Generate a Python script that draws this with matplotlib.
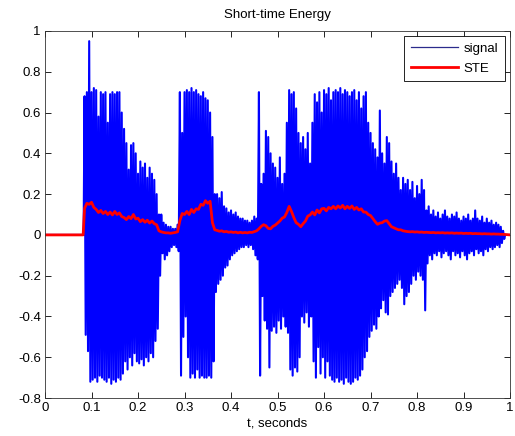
import numpy as np
import matplotlib
matplotlib.use('Agg')
import matplotlib.pyplot as plt

plt.rcParams['font.family'] = ['Liberation Sans', 'DejaVu Sans']
plt.rcParams['font.size'] = 9.5

# sample grid of the read-off peaks: t = 0.085 + 0.005*i
t0 = 0.085
dt = 0.005

# positive peaks of the signal
sig_upper = [
    0.68, 0.70, 0.95, 0.70, 0.72, 0.71, 0.58, 0.70, 0.69, 0.70,
    0.55, 0.69, 0.70, 0.69, 0.70, 0.70, 0.60, 0.52, 0.45, 0.32,
    0.44, 0.45, 0.40, 0.30, 0.36, 0.33, 0.35, 0.28, 0.33, 0.30,
    0.27, 0.20, 0.10, 0.10, 0.06, 0.05, 0.04, 0.04, 0.03, 0.03,
    0.05, 0.70, 0.50, 0.70, 0.71, 0.70, 0.72, 0.70, 0.71, 0.69,
    0.68, 0.70, 0.67, 0.66, 0.60, 0.48, 0.20, 0.20, 0.18, 0.21,
    0.14, 0.13, 0.11, 0.12, 0.10, 0.11, 0.09, 0.08, 0.08, 0.07,
    0.07, 0.06, 0.07, 0.09, 0.08, 0.70, 0.25, 0.30, 0.51, 0.48,
    0.40, 0.35, 0.33, 0.28, 0.38, 0.25, 0.30, 0.55, 0.71, 0.69,
    0.70, 0.62, 0.50, 0.45, 0.48, 0.42, 0.50, 0.35, 0.55, 0.69,
    0.65, 0.70, 0.60, 0.71, 0.69, 0.72, 0.66, 0.70, 0.71, 0.70,
    0.72, 0.69, 0.71, 0.70, 0.68, 0.70, 0.71, 0.66, 0.70, 0.62,
    0.68, 0.70, 0.55, 0.50, 0.45, 0.42, 0.38, 0.61, 0.40, 0.35,
    0.48, 0.45, 0.36, 0.30, 0.35, 0.28, 0.22, 0.28, 0.25, 0.27,
    0.22, 0.26, 0.18, 0.24, 0.20, 0.27, 0.22, 0.12, 0.14, 0.10,
    0.12, 0.09, 0.11, 0.08, 0.10, 0.12, 0.09, 0.08, 0.10, 0.09,
    0.11, 0.08, 0.07, 0.09, 0.08, 0.10, 0.07, 0.08, 0.12, 0.08,
    0.07, 0.09, 0.06, 0.08, 0.06, 0.07, 0.05, 0.06, 0.05, 0.04,
    0.02,
]

# negative peaks of the signal
sig_lower = [
    -0.49, -0.57, -0.72, -0.71, -0.70, -0.72, -0.69, -0.70, -0.71, -0.72,
    -0.70, -0.73, -0.71, -0.72, -0.70, -0.71, -0.68, -0.62, -0.66, -0.60,
    -0.64, -0.58, -0.62, -0.63, -0.61, -0.64, -0.60, -0.62, -0.58, -0.60,
    -0.52, -0.46, -0.20, -0.09, -0.12, -0.10, -0.08, -0.06, -0.05, -0.06,
    -0.08, -0.69, -0.50, -0.40, -0.60, -0.70, -0.68, -0.70, -0.66, -0.70,
    -0.69, -0.70, -0.70, -0.69, -0.70, -0.62, -0.28, -0.24, -0.22, -0.20,
    -0.16, -0.15, -0.12, -0.10, -0.09, -0.08, -0.07, -0.06, -0.06, -0.05,
    -0.06, -0.05, -0.07, -0.10, -0.12, -0.69, -0.30, -0.42, -0.46, -0.65,
    -0.47, -0.45, -0.48, -0.42, -0.46, -0.40, -0.45, -0.48, -0.66, -0.69,
    -0.65, -0.67, -0.60, -0.40, -0.43, -0.38, -0.45, -0.40, -0.62, -0.70,
    -0.55, -0.68, -0.60, -0.70, -0.62, -0.69, -0.71, -0.72, -0.70, -0.72,
    -0.71, -0.73, -0.70, -0.72, -0.73, -0.72, -0.70, -0.71, -0.69, -0.66,
    -0.60, -0.57, -0.50, -0.47, -0.44, -0.46, -0.40, -0.36, -0.32, -0.38,
    -0.39, -0.30, -0.28, -0.26, -0.24, -0.22, -0.26, -0.34, -0.30, -0.28,
    -0.24, -0.20, -0.22, -0.18, -0.20, -0.22, -0.37, -0.14, -0.10, -0.12,
    -0.09, -0.10, -0.08, -0.11, -0.09, -0.08, -0.10, -0.12, -0.08, -0.10,
    -0.09, -0.11, -0.08, -0.10, -0.12, -0.09, -0.08, -0.10, -0.07, -0.09,
    -0.08, -0.10, -0.07, -0.08, -0.06, -0.07, -0.06, -0.05, -0.06, -0.04,
    -0.02,
]

# short-time energy on the same grid
ste = [
    0.130, 0.155, 0.150, 0.160, 0.135, 0.125, 0.110, 0.120, 0.105, 0.115,
    0.100, 0.112, 0.098, 0.115, 0.100, 0.108, 0.090, 0.085, 0.075, 0.090,
    0.080, 0.100, 0.078, 0.082, 0.065, 0.075, 0.062, 0.072, 0.058, 0.068,
    0.055, 0.050, 0.020, 0.015, 0.012, 0.010, 0.010, 0.008, 0.010, 0.012,
    0.015, 0.070, 0.105, 0.100, 0.115, 0.100, 0.125, 0.110, 0.128, 0.125,
    0.150, 0.145, 0.168, 0.155, 0.165, 0.060, 0.025, 0.022, 0.018, 0.020,
    0.015, 0.017, 0.013, 0.015, 0.012, 0.014, 0.010, 0.013, 0.010, 0.012,
    0.010, 0.013, 0.012, 0.016, 0.020, 0.030, 0.042, 0.050, 0.045, 0.032,
    0.030, 0.042, 0.048, 0.058, 0.068, 0.082, 0.088, 0.110, 0.140, 0.115,
    0.085, 0.060, 0.052, 0.040, 0.055, 0.068, 0.092, 0.098, 0.112, 0.098,
    0.122, 0.108, 0.128, 0.130, 0.118, 0.135, 0.128, 0.140, 0.128, 0.142,
    0.132, 0.145, 0.128, 0.140, 0.130, 0.142, 0.125, 0.135, 0.122, 0.128,
    0.112, 0.112, 0.100, 0.095, 0.080, 0.065, 0.052, 0.058, 0.060, 0.068,
    0.070, 0.055, 0.040, 0.035, 0.030, 0.025, 0.025, 0.020, 0.018, 0.016,
    0.015, 0.016, 0.014, 0.015, 0.013, 0.014, 0.012, 0.013, 0.012, 0.011,
    0.012, 0.010, 0.011, 0.010, 0.011, 0.009, 0.010, 0.009, 0.010, 0.008,
    0.009, 0.008, 0.009, 0.007, 0.008, 0.007, 0.008, 0.006, 0.007, 0.006,
    0.006, 0.005, 0.006, 0.005, 0.005, 0.004, 0.005, 0.004, 0.004, 0.003,
    0.003,
]

xticks = [0, 0.1, 0.2, 0.3, 0.4, 0.5, 0.6, 0.7, 0.8, 0.9, 1]
xtick_labels = ['0', '0.1', '0.2', '0.3', '0.4', '0.5', '0.6', '0.7', '0.8', '0.9', '1']
yticks = [-0.8, -0.6, -0.4, -0.2, 0, 0.2, 0.4, 0.6, 0.8, 1]
ytick_labels = ['-0.8', '-0.6', '-0.4', '-0.2', '0', '0.2', '0.4', '0.6', '0.8', '1']

n = len(sig_upper)
t = t0 + dt * np.arange(n)

# zig-zag between positive and negative peaks
t_sig = np.empty(2 * n)
t_sig[0::2] = t
t_sig[1::2] = t + dt / 2
y_sig = np.empty(2 * n)
y_sig[0::2] = sig_upper
y_sig[1::2] = sig_lower
t_sig = np.concatenate([[0, t0 - 0.002], t_sig, [t_sig[-1] + 0.002, 1.0]])
y_sig = np.concatenate([[0, 0], y_sig, [0, 0]])

t_ste = np.concatenate([[0, t0 - 0.003], t, [1.0]])
y_ste = np.concatenate([[0, 0], ste, [0]])

fig = plt.figure(figsize=(5.15, 4.36), dpi=100)
ax = fig.add_axes([0.0874, 0.087, 0.903, 0.842])

ax.plot(t_sig, y_sig, color='#0000ff', linewidth=1.5, label='signal')
ax.plot(t_ste, y_ste, color='#ff0000', linewidth=2.0, label='STE')

ax.set_xlim(0, 1)
ax.set_ylim(-0.8, 1)
ax.set_xticks(xticks)
ax.set_xticklabels(xtick_labels)
ax.set_yticks(yticks)
ax.set_yticklabels(ytick_labels)
ax.tick_params(direction='in', length=4, top=True, right=True, width=0.6, pad=3)
for s in ax.spines.values():
    s.set_linewidth(0.6)
    s.set_color('#333333')

ax.set_title('Short-time Energy', fontsize=9.5, pad=9)
ax.set_xlabel('t, seconds', labelpad=2)

leg = ax.legend(loc='upper right', fancybox=False, framealpha=1, edgecolor='black',
                handlelength=3.6, borderpad=0.5, labelspacing=0.55, handletextpad=0.4,
                borderaxespad=0.4)
leg.get_frame().set_linewidth(0.6)
leg.get_lines()[0].set_color('#2b2b8c')
leg.get_lines()[0].set_linewidth(0.9)

fig.savefig('out.png', dpi=100)
